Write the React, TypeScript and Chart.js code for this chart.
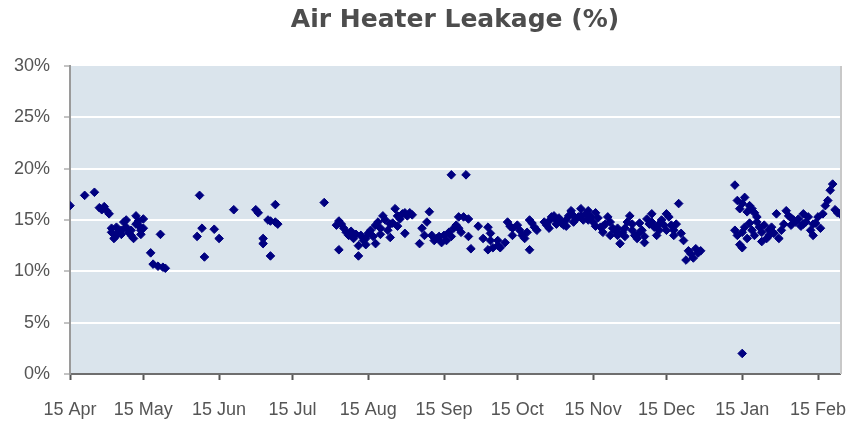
import React, { useEffect, useRef } from "react";
import { Chart, registerables } from "chart.js";

Chart.register(...registerables);

// x = days since 15 Apr, y = air heater leakage (%)
const aprMayReadings: [number, number][] = [
  [0, 16.4], [6, 17.4], [10, 17.7], [12, 16.2], [13, 16.0], [14, 16.3], [15, 15.9], [16, 15.6],
  [17, 14.2], [17, 13.8], [18, 13.2], [19, 13.5], [19, 14.3], [20, 13.9], [21, 14.0], [21, 13.6],
  [22, 14.8], [23, 15.0], [23, 14.3], [24, 13.8], [25, 14.0], [25, 13.5], [26, 13.2], [27, 15.4],
  [27, 14.6], [28, 14.9], [28, 14.5], [29, 14.0], [29, 13.6], [30, 15.1], [30, 14.2], [33, 11.8],
  [34, 10.7], [36, 10.5], [37, 13.6], [38, 10.4], [39, 10.3],
];
const junJulReadings: [number, number][] = [
  [52, 13.4], [53, 17.4], [54, 14.2], [55, 11.4], [59, 14.1], [61, 13.2], [67, 16.0], [76, 16.0],
  [77, 15.7], [79, 13.2], [79, 12.7], [81, 15.0], [82, 14.9], [82, 11.5], [84, 16.5], [84, 14.8],
  [85, 14.6],
];
const augReadings: [number, number][] = [
  [104, 16.7], [109, 14.5], [110, 14.9], [110, 12.1], [111, 14.6], [112, 14.2], [113, 13.8],
  [114, 13.5], [115, 13.9], [116, 13.2], [117, 13.6], [118, 12.5], [118, 11.5], [119, 13.5],
  [120, 13.0], [121, 13.2], [122, 13.7], [123, 14.0], [124, 13.4], [125, 12.7], [125, 14.5],
  [126, 14.8], [127, 14.2], [128, 15.4], [129, 15.0], [130, 14.0], [131, 13.3], [132, 14.7],
  [133, 16.1], [134, 15.4], [135, 15.1], [136, 15.6], [137, 13.7], [137, 15.7], [138, 15.4],
  [139, 15.7], [140, 15.5], [121, 12.6], [127, 13.6], [131, 14.6], [134, 14.4],
];
const sepReadings: [number, number][] = [
  [143, 12.7], [144, 14.2], [145, 13.5], [146, 14.8], [147, 15.8], [148, 13.5], [149, 13.0],
  [150, 13.2], [151, 13.4], [152, 12.8], [153, 13.5], [154, 13.0], [155, 13.8], [156, 19.4],
  [156, 13.4], [157, 14.2], [158, 14.5], [159, 15.3], [159, 14.2], [160, 13.8], [161, 15.3],
  [162, 19.4], [163, 15.1], [163, 13.4], [164, 12.2], [167, 14.4], [169, 13.2], [171, 14.3],
  [172, 13.7], [172, 13.0], [171, 12.1], [173, 12.3], [175, 12.5], [175, 13.0], [176, 12.3],
  [178, 12.8],
];
const octReadings: [number, number][] = [
  [179, 14.8], [180, 14.4], [181, 14.2], [181, 13.5], [183, 14.5], [184, 14.0], [185, 13.5],
  [186, 13.2], [187, 13.8], [188, 12.1], [188, 15.0], [189, 14.7], [190, 14.3], [191, 14.0],
  [194, 14.8], [195, 14.5], [196, 14.9], [197, 15.3], [198, 15.4], [199, 15.0], [200, 15.2],
  [201, 14.7], [202, 14.5], [203, 15.0], [204, 15.4], [205, 15.9], [206, 15.4], [207, 15.1],
  [208, 15.3], [209, 16.1], [210, 15.0], [211, 15.6], [196, 14.2], [199, 14.6], [203, 14.4],
  [206, 14.8], [209, 15.4],
];
const novDecReadings: [number, number][] = [
  [212, 15.9], [213, 15.3], [214, 14.8], [215, 15.7], [216, 15.2], [217, 14.3], [218, 13.8],
  [219, 14.6], [220, 15.3], [221, 14.8], [222, 14.2], [223, 13.9], [224, 13.5], [225, 12.7],
  [226, 13.8], [227, 14.2], [228, 14.8], [229, 15.4], [230, 14.0], [231, 13.5], [232, 13.2],
  [233, 14.7], [234, 14.0], [235, 12.8], [235, 13.4], [236, 15.1], [237, 14.6], [238, 15.6],
  [239, 14.3], [240, 13.5], [241, 14.0], [242, 15.0], [243, 14.5], [244, 15.6], [245, 15.3],
  [246, 14.5], [247, 14.0], [248, 14.6], [249, 16.6], [250, 13.7], [251, 13.0], [252, 11.1],
  [253, 12.0], [254, 11.7], [255, 11.3], [256, 12.2], [257, 11.8], [258, 12.0], [212, 15.0],
  [215, 14.4], [218, 14.4], [221, 13.5], [224, 14.2], [227, 13.4], [230, 14.6], [233, 13.8],
  [238, 14.8], [241, 14.6], [244, 14.0], [247, 13.5],
];
const janFebReadings: [number, number][] = [
  [272, 18.4], [272, 14.0], [273, 16.9], [273, 13.5], [274, 16.1], [274, 12.6], [275, 16.6],
  [275, 2.0], [275, 12.3], [275, 13.8], [276, 17.2], [276, 14.3], [277, 15.8], [278, 16.4],
  [278, 14.7], [279, 16.1], [279, 14.0], [280, 15.7], [280, 13.5], [281, 15.3], [282, 14.3],
  [283, 13.8], [284, 14.5], [285, 13.2], [286, 14.0], [287, 14.3], [288, 13.7], [289, 15.6],
  [290, 13.2], [291, 14.0], [292, 14.6], [293, 15.9], [294, 15.4], [295, 14.5], [296, 15.0],
  [297, 14.8], [298, 15.1], [299, 14.4], [300, 15.6], [301, 14.8], [302, 15.3], [303, 14.0],
  [304, 13.5], [304, 14.6], [305, 14.7], [306, 15.3], [307, 14.2], [308, 15.6], [309, 16.4],
  [310, 16.9], [311, 17.9], [312, 18.5], [313, 16.0], [314, 15.7], [315, 15.6], [277, 13.2],
  [281, 14.8], [283, 12.9], [286, 13.5], [295, 15.2], [300, 14.6],
];

const tickDays = [0, 30, 61, 91, 122, 153, 183, 214, 244, 275, 306];
const tickLabels = [
  "15 Apr", "15 May", "15 Jun", "15 Jul", "15 Aug", "15 Sep",
  "15 Oct", "15 Nov", "15 Dec", "15 Jan", "15 Feb",
];
const yTicks = [0, 5, 10, 15, 20, 25, 30];

const plotBackground = {
  id: "plotBackground",
  beforeDraw(chart: any) {
    const { ctx, chartArea } = chart;
    ctx.save();
    ctx.fillStyle = "#dae4ec";
    ctx.fillRect(chartArea.left, chartArea.top, chartArea.right - chartArea.left, chartArea.bottom - chartArea.top);
    ctx.restore();
  },
  afterDraw(chart: any) {
    const { ctx, chartArea } = chart;
    ctx.save();
    ctx.strokeStyle = "#c8c8c8";
    ctx.lineWidth = 2;
    ctx.beginPath();
    ctx.moveTo(chartArea.right + 1, chartArea.top);
    ctx.lineTo(chartArea.right + 1, chartArea.bottom);
    ctx.stroke();
    ctx.restore();
  },
};

export default function App() {
  const ref = useRef<HTMLCanvasElement | null>(null);
  useEffect(() => {
    document.body.style.margin = "0";
    const points = [
      ...aprMayReadings, ...junJulReadings, ...augReadings, ...sepReadings,
      ...octReadings, ...novDecReadings, ...janFebReadings,
    ].map(([x, y]) => ({ x, y }));
    const chart = new Chart(ref.current!, {
      type: "scatter",
      data: {
        datasets: [
          {
            label: "Air Heater Leakage",
            data: points,
            pointStyle: "rectRot",
            pointRadius: 4.3,
            borderWidth: 1,
            backgroundColor: "#000080",
            borderColor: "#000080",
          },
        ],
      },
      plugins: [plotBackground],
      options: {
        animation: false,
        responsive: false,
        layout: { padding: { left: 8, right: 6, top: 5, bottom: 0 } },
        plugins: {
          legend: { display: false },
          tooltip: { enabled: false },
          title: {
            display: true,
            fullSize: false,
            text: "Air Heater Leakage (%)",
            color: "#4d4d4d",
            font: { family: "'DejaVu Sans', Verdana, sans-serif", size: 25, weight: "bold" },
            padding: { top: 0, bottom: 31 },
          },
        },
        scales: {
          x: {
            type: "linear",
            min: 0,
            max: 315,
            afterFit: (s: any) => {
              s.height = 51;
              s.paddingLeft = 0;
              s.paddingRight = 0;
            },
            afterBuildTicks: (s: any) => { s.ticks = tickDays.map((v) => ({ value: v })); },
            ticks: {
              autoSkip: false,
              maxRotation: 0,
              padding: 19,
              color: "#555555",
              font: { family: "'Liberation Sans', Arial, sans-serif", size: 18 },
              callback: (v: any) => {
                const i = tickDays.indexOf(Number(v));
                return i >= 0 ? tickLabels[i] : "";
              },
            },
            grid: { drawOnChartArea: false, drawTicks: true, tickLength: 6, tickColor: "#555555", tickWidth: 2 },
            border: { display: true, color: "#6e6e6e", width: 2 },
          },
          y: {
            min: 0,
            max: 30,
            z: 1,
            afterFit: (s: any) => { s.width = 62; },
            afterBuildTicks: (s: any) => { s.ticks = yTicks.map((v) => ({ value: v })); },
            ticks: {
              padding: 14,
              color: "#555555",
              font: { family: "'Liberation Sans', Arial, sans-serif", size: 18 },
              callback: (v: any) => v + "%",
            },
            grid: {
              color: (c: any) => (c.tick && (c.tick.value === 0 || c.tick.value === 30) ? "rgba(0,0,0,0)" : "#ffffff"),
              lineWidth: 2,
              tickColor: "#888888",
              tickLength: 6,
              tickWidth: 1,
            },
            border: { display: true, color: "#9a9a9a", width: 2 },
          },
        },
      },
    });
    return () => chart.destroy();
  }, []);
  return (
    <div style={{ width: 846, height: 425, background: "#ffffff" }}>
      <canvas ref={ref} width={846} height={425} />
    </div>
  );
}
